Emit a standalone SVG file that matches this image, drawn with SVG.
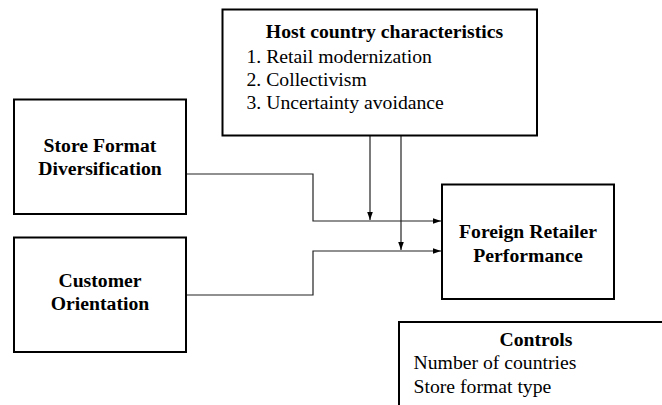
<svg xmlns="http://www.w3.org/2000/svg" width="662" height="405" viewBox="0 0 662 405">
<style>
.box{fill:#fff;stroke:#000;stroke-width:2}
.b{font-family:"Liberation Serif","Times New Roman",serif;font-weight:bold;font-size:19.7px;fill:#000;text-anchor:middle}
.r{font-family:"Liberation Serif","Times New Roman",serif;font-size:19.7px;fill:#000}
.c{fill:none;stroke:#222;stroke-width:1.2}
</style>
<defs>
<marker id="ah" viewBox="0 0 10 10" refX="10" refY="5" markerWidth="8" markerHeight="8" markerUnits="userSpaceOnUse" orient="auto">
<path d="M0,1.5 L10,5 L0,8.5 Z" fill="#000"/>
</marker>
</defs>
<rect width="662" height="405" fill="#fff"/>
<g id="connectors">
<polyline class="c" points="186,174 313,174 313,221 441,221" marker-end="url(#ah)"/>
<polyline class="c" points="186,295 313,295 313,251 441,251" marker-end="url(#ah)"/>
<line class="c" x1="370" y1="136" x2="370" y2="220" marker-end="url(#ah)"/>
<line class="c" x1="401" y1="136" x2="401" y2="250" marker-end="url(#ah)"/>
</g>
<g id="host">
<rect class="box" x="222.5" y="9.5" width="314.5" height="126"/>
<text class="b" x="384.5" y="38">Host country characteristics</text>
<text class="r" x="246.5" y="62.7">1. Retail modernization</text>
<text class="r" x="246.5" y="86">2. Collectivism</text>
<text class="r" x="246.5" y="109.3">3. Uncertainty avoidance</text>
</g>
<g id="store">
<rect class="box" x="14" y="99.5" width="172" height="114.5"/>
<text class="b" x="100" y="151.7">Store Format</text>
<text class="b" x="100" y="175">Diversification</text>
</g>
<g id="customer">
<rect class="box" x="14" y="237.5" width="172" height="114.5"/>
<text class="b" x="100" y="286.7">Customer</text>
<text class="b" x="100" y="310">Orientation</text>
</g>
<g id="performance">
<rect class="box" x="442" y="184.5" width="172" height="114.5"/>
<text class="b" x="528" y="238.3">Foreign Retailer</text>
<text class="b" x="528" y="261.7">Performance</text>
</g>
<g id="controls">
<rect class="box" x="399" y="322" width="280" height="100"/>
<text class="b" x="536" y="346">Controls</text>
<text class="r" x="413.5" y="369.3">Number of countries</text>
<text class="r" x="413.5" y="392.7">Store format type</text>
</g>
</svg>
